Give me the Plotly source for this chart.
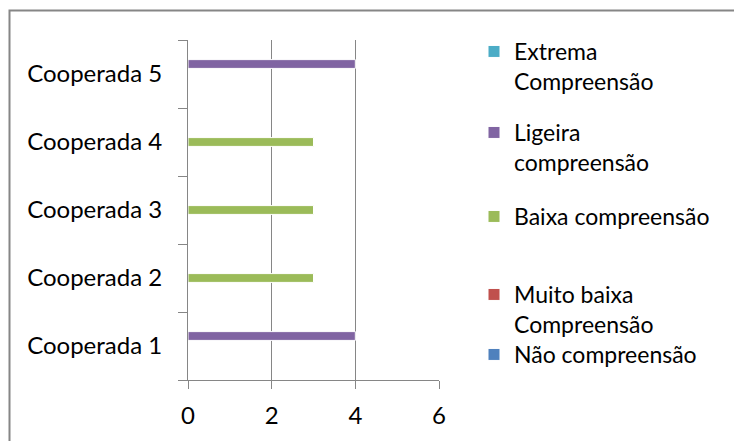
import plotly.graph_objects as go

# Categories (bottom to top) and values per comprehension level
categories = ["Cooperada 1", "Cooperada 2", "Cooperada 3", "Cooperada 4", "Cooperada 5"]
nao_compreensao = [0, 0, 0, 0, 0]
muito_baixa = [0, 0, 0, 0, 0]
baixa = [0, 3, 3, 3, 0]
ligeira = [4, 0, 0, 0, 4]
extrema = [0, 0, 0, 0, 0]

series_names = [
    "Não compreensão",
    "Muito baixa<br>Compreensão",
    "Baixa compreensão",
    "Ligeira<br>compreensão",
    "Extrema<br>Compreensão",
]
series_values = [nao_compreensao, muito_baixa, baixa, ligeira, extrema]
series_colors = ["#4F81BD", "#C0504D", "#9BBB59", "#8064A2", "#4BACC6"]
x_ticks = [0, 2, 4, 6]

FONT = "Lato, Carlito, Calibri, sans-serif"
W, H = 734, 441
L, R, T, B = 188, 295, 40, 61
PW, PH = W - L - R, H - T - B


def py(pix):
    """pixel row -> paper y"""
    return (H - B - pix) / PH


def px(pix):
    """pixel column -> paper x"""
    return (pix - L) / PW


# one legend box per entry so each entry sits at its own height
legend_ids = ["legend", "legend2", "legend3", "legend4", "legend5"]
legend_tops = [333, 273, 195, 111, 30]

fig = go.Figure()
for name, vals, col, lid in zip(series_names, series_values, series_colors, legend_ids):
    fig.add_trace(go.Bar(
        y=categories, x=vals, orientation="h", name=name,
        marker=dict(color=col, line=dict(color="white", width=1)),
        legend=lid,
    ))

layout_legends = {}
for lid, top in zip(legend_ids, legend_tops):
    layout_legends[lid] = dict(
        x=px(474), xanchor="left", y=py(top), yanchor="top",
        font=dict(family=FONT, size=23, color="black"),
        bgcolor="rgba(0,0,0,0)", valign="top", itemwidth=30,
    )

fig.update_layout(
    width=W, height=H,
    margin=dict(l=L, r=R, t=T, b=B, autoexpand=False),
    paper_bgcolor="white", plot_bgcolor="white",
    barmode="group", bargap=0.265, bargroupgap=0.12,
    font=dict(family=FONT, size=24, color="black"),
    showlegend=True,
    **layout_legends,
    xaxis=dict(
        range=[0, 6], tickvals=x_ticks, ticktext=[str(v) for v in x_ticks],
        showgrid=True, gridcolor="#868686", gridwidth=1,
        showline=True, linecolor="#868686", linewidth=1,
        ticks="outside", ticklen=8, tickcolor="#868686",
        ticklabelstandoff=6, zeroline=False,
        tickfont=dict(family=FONT, size=24, color="black"),
    ),
    yaxis=dict(
        type="category", categoryorder="array", categoryarray=categories,
        showgrid=False, showline=True, linecolor="#868686", linewidth=1,
        ticks="outside", ticklen=9, tickcolor="#868686", tickson="boundaries",
        ticklabelstandoff=20,
        tickfont=dict(family=FONT, size=24, color="black"),
    ),
    shapes=[dict(
        type="rect", xref="paper", yref="paper",
        x0=px(9.5), x1=px(760), y0=py(470), y1=py(10.5),
        line=dict(color="#868686", width=2), fillcolor="rgba(0,0,0,0)",
        layer="below",
    )],
)

fig.write_html("out.html")
